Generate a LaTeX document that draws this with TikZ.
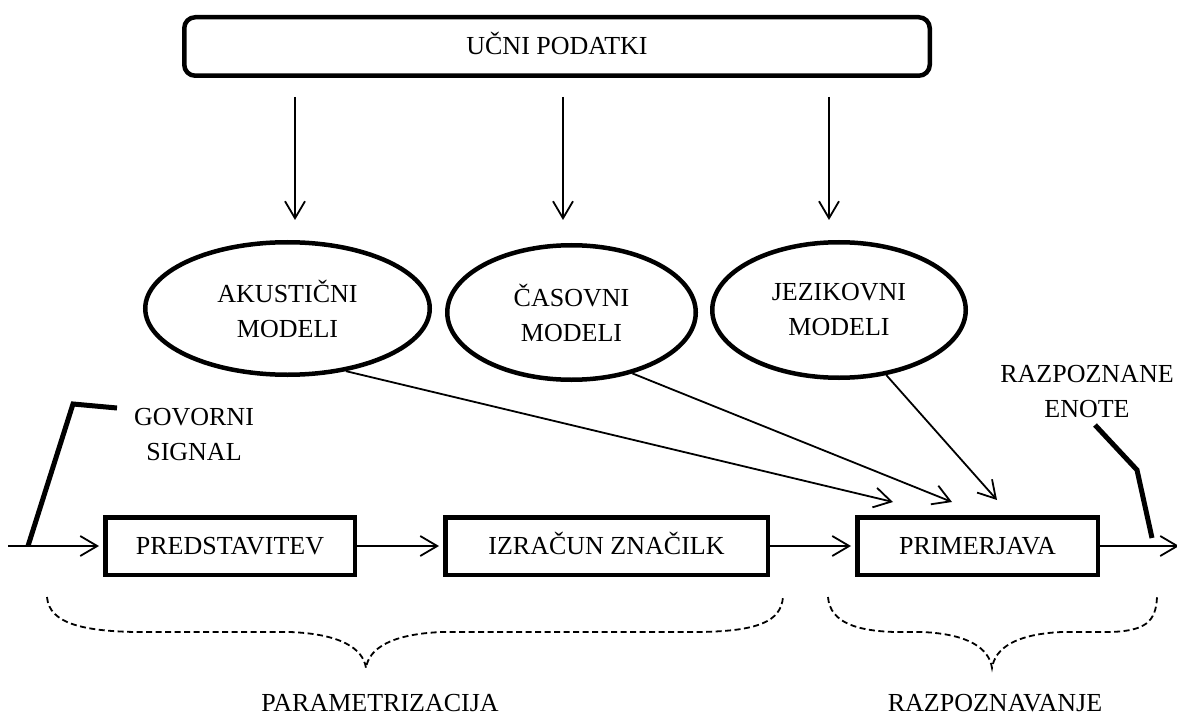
\documentclass[tikz,border=0pt]{standalone}
\usepackage{fontspec}
\setmainfont{Liberation Serif}
\usetikzlibrary{arrows.meta,shapes.geometric,calc}
\begin{document}
\begin{tikzpicture}[x=1pt,y=-1pt,
  every node/.style={font=\fontsize{26}{35}\selectfont, inner sep=0pt},
  stage/.style={draw, line width=4.5pt, minimum height=57.5pt, text height=17pt, text depth=0pt},
  model/.style={draw, ellipse, line width=4.5pt, align=center},
  arr/.style={line width=1.8pt, -{Straight Barb[length=17pt,width=20pt,line width=1.8pt]}},
  lead/.style={line width=5pt},
  brace/.style={line width=1.8pt, dash pattern=on 6pt off 3.5pt},
  caption/.style={align=center}]
\useasboundingbox (0,0) rectangle (1177,719);

% training data
\node[draw, rounded corners=11pt, line width=4.5pt, minimum width=745.5pt,
      minimum height=58.5pt, text height=17pt, text depth=0pt] (U) at (557,46.5) {UČNI PODATKI};

% models
\node[model, minimum width=284.5pt, minimum height=132.5pt] (A) at (287.5,308.5) {AKUSTIČNI\\MODELI};
\node[model, minimum width=248.5pt, minimum height=134.5pt] (C) at (571.5,312.5) {ČASOVNI\\MODELI};
\node[model, minimum width=253.5pt, minimum height=135.5pt] (J) at (839,310) {JEZIKOVNI\\MODELI};

% processing chain
\node[stage, minimum width=249.5pt] (P)  at (230,546)   {PREDSTAVITEV};
\node[stage, minimum width=322.5pt] (I)  at (606.5,546) {IZRAČUN ZNAČILK};
\node[stage, minimum width=240.5pt] (PR) at (977.5,546) {PRIMERJAVA};

% signal labels
\node[caption] (gs) at (194,435) {GOVORNI\\SIGNAL};
\node[caption] (re) at (1087,392) {RAZPOZNANE\\ENOTE};

% training arrows
\coordinate (u1) at (295,97);  \coordinate (m1) at (295,220);
\coordinate (u2) at (563,97);  \coordinate (m2) at (563,220);
\coordinate (u3) at (829,97);  \coordinate (m3) at (829,220);
\draw[arr] (u1) -- (m1);
\draw[arr] (u2) -- (m2);
\draw[arr] (u3) -- (m3);

% models feeding the matcher
\coordinate (t1) at ($(PR.north west)+(38,-13)$);
\coordinate (t2) at ($(PR.north west)+(97,-13)$);
\coordinate (t3) at ($(PR.north west)+(142,-15)$);
\draw[arr] (A.-47) -- (t1);
\draw[arr] (C.-45) -- (t2);
\draw[arr] (J.-54) -- (t3);

% main signal path
\coordinate (in) at (8,546);
\coordinate (out) at (1179,546);
\draw[arr, shorten >=4pt] (in) -- (P.west);
\draw[arr, shorten >=4pt] (P.east) -- (I.west);
\draw[arr, shorten >=4pt] (I.east) -- (PR.west);
\draw[arr] (PR.east) -- (out);

% leader lines
\coordinate (g1) at (28,546);   \coordinate (g2) at (73,404);   \coordinate (g3) at (117,408);
\draw[lead] (g1) -- (g2) -- (g3);
\coordinate (r1) at (1095,425); \coordinate (r2) at (1137,470); \coordinate (r3) at (1152,538);
\draw[lead] (r1) -- (r2) -- (r3);

% grouping braces
\draw[brace] (47,597) .. controls (49,624) and (85,631) .. (135,632) -- (290,632)
  .. controls (340,634) and (363,648) .. (366,668)
  .. controls (369,648) and (392,634) .. (442,632) -- (700,632)
  .. controls (757,631) and (781,622) .. (783,597);
\draw[brace] (828,597) .. controls (830,624) and (860,631) .. (895,632) -- (922,632)
  .. controls (968,634) and (989,648) .. (992,668)
  .. controls (995,648) and (1016,634) .. (1062,632) -- (1110,632)
  .. controls (1145,631) and (1156,622) .. (1157,597);

\node[anchor=base] (par) at (380,711) {PARAMETRIZACIJA};
\node[anchor=base] (raz) at (995,711) {RAZPOZNAVANJE};
\end{tikzpicture}
\end{document}
